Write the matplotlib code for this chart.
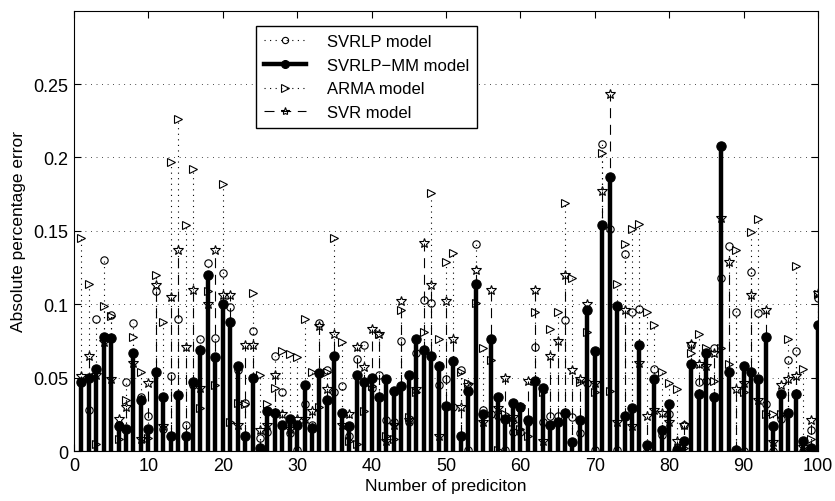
import numpy as np
import matplotlib
matplotlib.use("Agg")
import matplotlib.pyplot as plt
from matplotlib.lines import Line2D
from matplotlib.legend_handler import HandlerLine2D

plt.rcParams["font.family"] = ["Liberation Sans", "DejaVu Sans"]

prediction = np.arange(1, 101)

svrlp = [
    .047, .028, .090, .130, .093, .018, .047, .087, .037, .024,
    .109, .015, .051, .090, .018, .045, .076, .128, .077, .121,
    .098, .055, .033, .082, .009, .013, .065, .040, .012, .001,
    .032, .018, .087, .055, .040, .044, .010, .063, .072, .043,
    .052, .021, .020, .075, .020, .067, .103, .101, .045, .049,
    .030, .055, .001, .141, .028, .025, .024, .001, .013, .013,
    .020, .071, .020, .024, .024, .089, .023, .012, .046, .001,
    .209, .151, .001, .134, .095, .097, .000, .056, .011, .025,
    .002, .018, .072, .047, .048, .070, .118, .140, .095, .000,
    .122, .094, .032, .000, .022, .062, .068, .000, .014, .104,
]

svrlp_mm = [
    .047, .050, .056, .078, .077, .017, .015, .067, .035, .015,
    .054, .037, .010, .038, .010, .047, .069, .120, .064, .100,
    .088, .058, .010, .050, .002, .027, .026, .018, .022, .018,
    .045, .016, .053, .035, .065, .026, .017, .052, .047, .050,
    .037, .049, .041, .044, .052, .076, .069, .065, .058, .031,
    .061, .010, .041, .114, .025, .076, .037, .022, .033, .030,
    .021, .048, .043, .018, .020, .026, .006, .021, .096, .068,
    .154, .187, .099, .024, .029, .072, .004, .049, .014, .032,
    .001, .007, .059, .039, .067, .037, .208, .054, .001, .058,
    .054, .049, .078, .017, .039, .026, .039, .007, .002, .086,
]

arma = [
    .145, .114, .005, .099, .092, .008, .035, .078, .054, .009,
    .120, .088, .197, .226, .154, .192, .029, .109, .045, .182,
    .020, .033, .032, .108, .052, .032, .043, .068, .066, .064,
    .090, .054, .030, .054, .145, .074, .007, .005, .027, .044,
    .080, .010, .008, .096, .023, .040, .081, .176, .076, .129,
    .135, .054, .046, .101, .070, .062, .001, .025, .020, .015,
    .010, .095, .040, .083, .095, .169, .118, .047, .081, .040,
    .203, .041, .114, .141, .151, .155, .095, .086, .054, .046,
    .042, .002, .067, .080, .070, .048, .070, .059, .137, .040,
    .149, .158, .025, .025, .025, .076, .126, .056, .008, .107,
]

svr = [
    .051, .065, .052, .074, .049, .022, .030, .060, .008, .046,
    .113, .017, .105, .137, .071, .110, .043, .100, .137, .106,
    .106, .018, .072, .072, .014, .018, .052, .025, .015, .022,
    .022, .027, .085, .042, .080, .018, .025, .071, .057, .083,
    .080, .007, .018, .102, .021, .042, .142, .113, .010, .102,
    .076, .030, .045, .123, .020, .110, .029, .050, .023, .030,
    .048, .110, .007, .065, .075, .120, .055, .049, .100, .046,
    .177, .243, .020, .096, .017, .060, .024, .028, .026, .020,
    .007, .018, .073, .059, .058, .067, .159, .129, .042, .046,
    .106, .035, .096, .006, .045, .049, .051, .003, .021, .108,
]

labels = ["SVRLP model", "SVRLP\u2212MM model", "ARMA model", "SVR model"]

dotted = (0, (1, 4))
dashed = (0, (9, 6))

styles = [
    dict(ls=dotted, lw=0.8, marker="o", ms=5.3, mfc="none"),
    dict(ls="-", lw=3.2, marker="o", ms=6.7, mfc="k"),
    dict(ls=dotted, lw=0.8, marker=">", ms=6.0, mfc="none"),
    dict(ls=dashed, lw=0.8, marker="*", ms=7.0, mfc="none"),
]

fig = plt.figure(figsize=(8.35, 5.02), dpi=100)
ax = fig.add_axes([0.0886, 0.0996, 0.891, 0.877])

series = [svrlp, svrlp_mm, arma, svr]
handles = []
for k, (vals, st) in enumerate(zip(series, styles)):
    z = 3 + k
    ax.vlines(prediction, 0, vals, colors="k", linestyles=[st["ls"]],
              linewidth=st["lw"], zorder=z)
    ax.plot(prediction, vals, linestyle="none", marker=st["marker"],
            ms=st["ms"], mfc=st["mfc"], mec="k", mew=0.8, zorder=z + 0.5)
    handles.append(Line2D([], [], color="k", linestyle=st["ls"], linewidth=st["lw"],
                          marker=st["marker"], ms=st["ms"] * 0.85, mfc=st["mfc"],
                          mec="k", mew=0.8))

ax.axhline(0, color="k", lw=0.8, zorder=8)

ax.set_xlim(0, 100)
ax.set_ylim(0, 0.3)
ax.set_xticks(np.arange(0, 101, 10))
ax.set_yticks([0, 0.05, 0.1, 0.15, 0.2, 0.25])
ax.set_yticklabels(["0", "0.05", "0.1", "0.15", "0.2", "0.25"])
ax.tick_params(direction="in", top=True, right=True, length=5, width=0.8,
               labelsize=13, pad=4)
ax.yaxis.grid(True, linestyle=(0, (0.7, 5.0)), color="k", linewidth=0.7)
ax.set_axisbelow(True)
for sp in ax.spines.values():
    sp.set_linewidth(0.8)

ax.set_xlabel("Number of prediciton", fontsize=12.5, labelpad=3)
ax.set_ylabel("Absolute percentage error", fontsize=12.5, labelpad=5)


class EndMarkerHandler(HandlerLine2D):
    def get_xdata(self, legend, xdescent, ydescent, width, height, fontsize):
        x0 = -xdescent
        x1 = -xdescent + width
        return np.array([x0, x1]), np.array([x1])


leg = ax.legend(handles, labels, loc="upper left", bbox_to_anchor=(0.2446, 0.966),
                borderaxespad=0, fancybox=False, edgecolor="k", framealpha=1,
                fontsize=12, handlelength=2.5, handletextpad=1.25,
                labelspacing=0.52, borderpad=0.5,
                handler_map={Line2D: EndMarkerHandler()})
leg.get_frame().set_linewidth(1.0)
leg.set_zorder(20)

fig.savefig("out.png", dpi=100)
